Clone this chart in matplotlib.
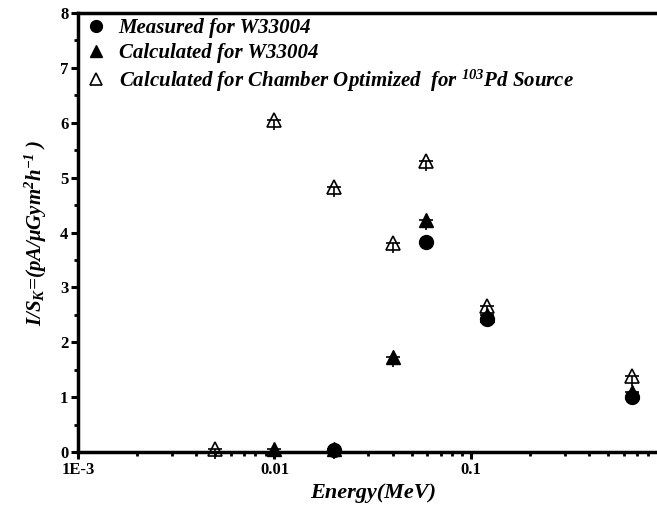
import matplotlib
matplotlib.use('Agg')
import matplotlib.pyplot as plt
from matplotlib.ticker import MultipleLocator, FixedLocator, NullFormatter
import numpy as np

plt.rcParams['font.family'] = ['Liberation Serif', 'DejaVu Serif']
plt.rcParams['font.weight'] = 'bold'
plt.rcParams['mathtext.fontset'] = 'custom'
plt.rcParams['mathtext.rm'] = 'Liberation Serif:bold:italic'
plt.rcParams['mathtext.it'] = 'Liberation Serif:bold:italic'
plt.rcParams['mathtext.bf'] = 'Liberation Serif:bold:italic'

# data (energy in MeV)
energy_meas = [0.02, 0.059, 0.121, 0.662]
meas_w33004 = [0.03, 3.83, 2.42, 1.00]

energy_calc = [0.01, 0.02, 0.04, 0.059, 0.121, 0.662]
calc_w33004 = [0.05, 0.05, 1.73, 4.23, 2.50, 1.09]
calc_w33004_err = [0.18, 0.18, 0.18, 0.18, 0.18, 0.18]

energy_opt = [0.005, 0.01, 0.02, 0.04, 0.059, 0.121, 0.662]
calc_opt = [0.05, 6.05, 4.83, 3.80, 5.30, 2.66, 1.38]
calc_opt_err = [0.18, 0.18, 0.18, 0.18, 0.18, 0.18, 0.18]

fig = plt.figure(figsize=(6.57, 5.08), dpi=100)
ax = fig.add_axes([0.1187, 0.1102, 0.8973, 0.8642])


def with_lower_bar(x, y, err):
    lo = np.array(err)
    eb = ax.errorbar(x, y, yerr=[lo, np.zeros_like(lo)], fmt='none',
                     ecolor='black', elinewidth=1.2, capsize=5, capthick=1.2,
                     zorder=2, clip_on=False)
    eb[1][0].set_visible(False)  # drop the lower cap
    return eb


with_lower_bar(energy_opt, calc_opt, calc_opt_err)
with_lower_bar(energy_calc, calc_w33004, calc_w33004_err)

ax.plot(energy_meas, meas_w33004, 'o', color='black', ms=10, ls='none',
        label='Measured for W33004', zorder=4, clip_on=False)
ax.plot(energy_calc, calc_w33004, '^', color='black', ms=10, ls='none',
        label='Calculated for W33004', zorder=3, clip_on=False)
ax.plot(energy_opt, calc_opt, '^', mfc='none', mec='black', mew=1.2, ms=10,
        ls='none', label='Calculated for Chamber Optimized  for $^{103}$Pd Source',
        zorder=3, clip_on=False)

ax.set_xscale('log')
ax.set_xlim(1e-3, 1)
ax.set_ylim(0, 8)

ax.xaxis.set_major_locator(FixedLocator([1e-3, 1e-2, 1e-1]))
ax.set_xticklabels(['1E-3', '0.01', '0.1'])
ax.xaxis.set_minor_locator(FixedLocator(
    [m * d for d in (1e-3, 1e-2, 1e-1) for m in range(2, 10)]))
ax.xaxis.set_minor_formatter(NullFormatter())
ax.yaxis.set_major_locator(MultipleLocator(1))
ax.yaxis.set_minor_locator(MultipleLocator(0.5))

for s in ax.spines.values():
    s.set_linewidth(2.5)
ax.tick_params(which='major', direction='out', length=5, width=2.2,
               labelsize=12, top=False, right=False, pad=2)
ax.tick_params(which='minor', direction='out', length=3, width=2,
               top=False, right=False)
for lab in ax.get_xticklabels() + ax.get_yticklabels():
    lab.set_fontweight('bold')

ax.set_xlabel('Energy(MeV)', fontsize=16, fontstyle='italic',
              fontweight='bold', labelpad=4)
ax.set_ylabel(r'I/S$_K$=(pA/$\mu$Gym$^2$h$^{-1}$ )', fontsize=15,
              fontstyle='italic', fontweight='bold', labelpad=8)

leg = ax.legend(loc='upper left', frameon=False,
                prop={'style': 'italic', 'weight': 'bold', 'size': 15},
                handletextpad=0.5, borderaxespad=0.0, borderpad=0.25,
                labelspacing=0.22, handlelength=1.2, markerscale=0.85)

fig.savefig('out.png', dpi=100, facecolor='white')
